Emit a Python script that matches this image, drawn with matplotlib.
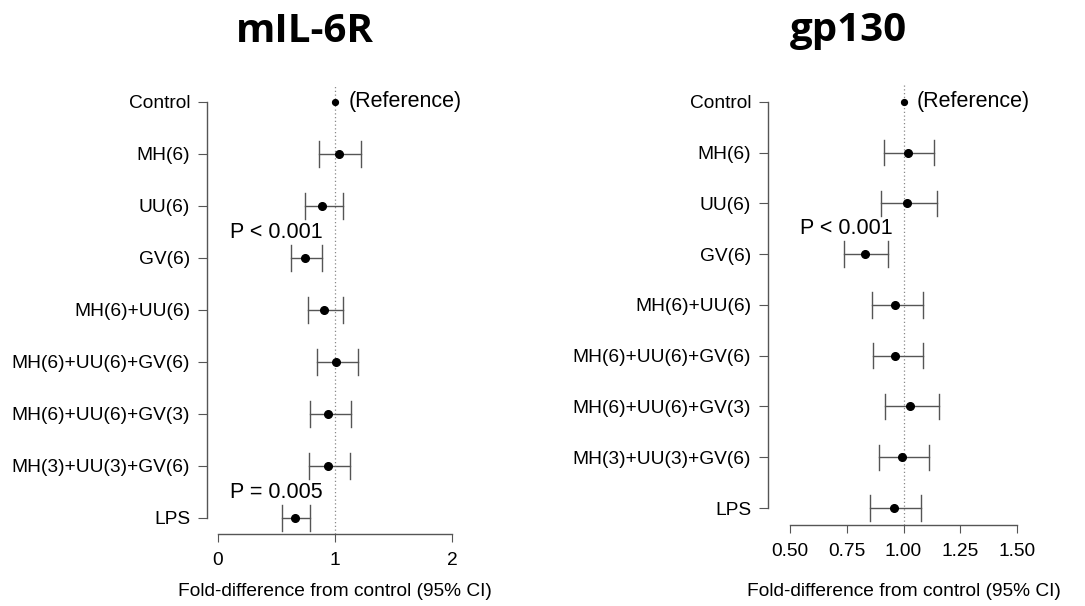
import matplotlib
matplotlib.use("Agg")
import matplotlib.pyplot as plt
import matplotlib.transforms as mtransforms

plt.rcParams['font.family'] = ['Liberation Sans', 'DejaVu Sans']

groups = ["Control", "MH(6)", "UU(6)", "GV(6)", "MH(6)+UU(6)",
          "MH(6)+UU(6)+GV(6)", "MH(6)+UU(6)+GV(3)", "MH(3)+UU(3)+GV(6)", "LPS"]

# mIL-6R fold differences (first entry is the control reference)
il6r_est = [1.00, 1.03, 0.89, 0.74, 0.91, 1.01, 0.94, 0.94, 0.66]
il6r_lo = [None, 0.86, 0.74, 0.62, 0.77, 0.85, 0.79, 0.78, 0.55]
il6r_hi = [None, 1.22, 1.07, 0.89, 1.07, 1.20, 1.14, 1.13, 0.79]

# gp130 fold differences
gp130_est = [1.00, 1.018, 1.015, 0.83, 0.964, 0.964, 1.027, 0.995, 0.958]
gp130_lo = [None, 0.914, 0.90, 0.738, 0.861, 0.864, 0.917, 0.891, 0.852]
gp130_hi = [None, 1.136, 1.148, 0.933, 1.085, 1.085, 1.155, 1.111, 1.076]

il6r_ticks = [0, 1, 2]
il6r_ticklabels = ["0", "1", "2"]
gp130_ticks = [0.50, 0.75, 1.00, 1.25, 1.50]
gp130_ticklabels = ["0.50", "0.75", "1.00", "1.25", "1.50"]

# (label, x, row position)
il6r_notes = [("P < 0.001", 0.50, 2.5), ("P = 0.005", 0.50, 7.5)]
gp130_notes = [("P < 0.001", 0.75, 2.5)]

W, H = 1085, 606
fig = plt.figure(figsize=(W / 100, H / 100), dpi=100)

GREY = "#555555"


def forest(ax, est, lo, hi, ticks, ticklabels, notes, title, title_x):
    n = len(groups)
    for i in range(1, n):
        ax.plot([lo[i], hi[i]], [i, i], color=GREY, lw=1.0, zorder=2)
        for v in (lo[i], hi[i]):
            ax.plot([v, v], [i - 0.25, i + 0.25], color=GREY, lw=1.0, zorder=2)
        ax.plot(est[i], i, "o", color="black", ms=5.5, zorder=3)
    ax.plot(est[0], 0, "o", color="black", ms=4.2, zorder=3)
    ax.annotate("(Reference)", (est[0], 0), xytext=(9.5, 0), textcoords="offset points",
                ha="left", va="center", fontsize=15.5)
    ax.axvline(1.0, color="#888888", lw=0.9, ls=(0, (1, 2)), zorder=1)
    for txt, x, y in notes:
        ax.text(x, y, txt, ha="center", va="center", fontsize=15.5)

    ax.set_yticks(range(n))
    ax.set_yticklabels(groups)
    ax.set_xticks(ticks)
    ax.set_xticklabels(ticklabels)
    ax.tick_params(axis="y", length=6.5, pad=5.5, color=GREY, labelsize=13.8)
    ax.tick_params(axis="x", length=6, pad=7, color=GREY, labelsize=13.8)
    for s in ("top", "right"):
        ax.spines[s].set_visible(False)
    ax.spines["left"].set_bounds(0, n - 1)
    ax.spines["bottom"].set_bounds(ticks[0], ticks[-1])
    for s in ("left", "bottom"):
        ax.spines[s].set_color(GREY)
        ax.spines[s].set_linewidth(1.0)

    tr = mtransforms.blended_transform_factory(ax.transData, fig.transFigure)
    ax.text((ticks[0] + ticks[-1]) / 2, 1 - 592 / H, "Fold-difference from control (95% CI)",
            transform=tr, ha="center", va="center", fontsize=13.8)
    fig.text(title_x / W, 1 - 31 / H, title, ha="center", va="center",
             fontsize=29, fontweight="bold", family=["Open Sans", "DejaVu Sans"])


def place(spine_px, zero_px, unit_px, zero_val, right_px, top_row_px, row_px, axis_px):
    ax = fig.add_axes([spine_px / W, 1 - axis_px / H, (right_px - spine_px) / W,
                       (axis_px - 85) / H])
    ax.set_xlim(zero_val + (spine_px - zero_px) / unit_px, zero_val + (right_px - zero_px) / unit_px)
    n = len(groups)
    last_px = top_row_px + (n - 1) * row_px
    ax.set_ylim((n - 1) + (axis_px - last_px) / row_px, -(top_row_px - 85) / row_px)
    return ax


ax1 = place(207, 218, 117, 0.0, 470, 102, 52, 534)
forest(ax1, il6r_est, il6r_lo, il6r_hi, il6r_ticks, il6r_ticklabels, il6r_notes, "mIL-6R", 305)

ax2 = place(767.7, 790, 227, 0.5, 1030, 101.7, 50.8, 525)
forest(ax2, gp130_est, gp130_lo, gp130_hi, gp130_ticks, gp130_ticklabels, gp130_notes, "gp130", 848)

fig.savefig("out.png", dpi=100)
